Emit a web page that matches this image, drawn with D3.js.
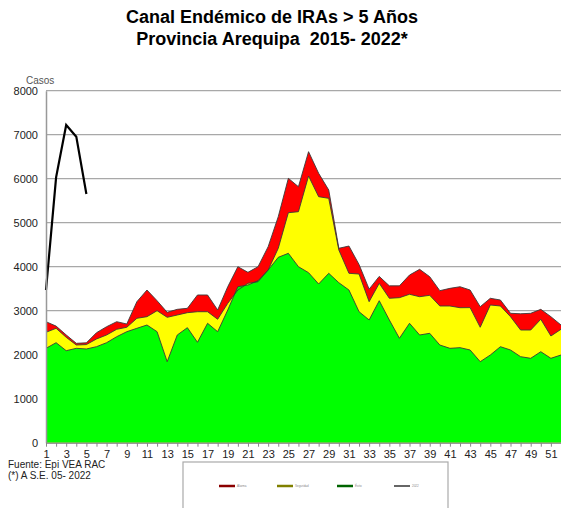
<!DOCTYPE html>
<html><head><meta charset="utf-8">
<script src="https://cdn.jsdelivr.net/npm/d3@7"></script>
<style>body{margin:0;background:#fff;}svg{display:block;font-family:"Liberation Sans",Arial,sans-serif;}</style>
</head><body>
<script>
const weeks = d3.range(1, 53);
// Q1 (zona de éxito, verde)
const exito = [2145,2273,2091,2145,2130,2182,2273,2409,2523,2600,2675,2523,1841,2448,2614,2282,2714,2523,3016,3545,3584,3682,3925,4213,4304,4000,3864,3607,3850,3636,3470,2977,2789,3227,2789,2373,2714,2448,2486,2220,2145,2160,2107,1841,1993,2182,2107,1955,1918,2068,1918,1993];
// Mediana (zona de seguridad, amarillo)
const seguridad = [2509,2600,2395,2220,2230,2357,2448,2577,2623,2827,2864,3000,2850,2902,2955,2977,2977,2805,3168,3470,3622,3659,3925,4418,5227,5250,6061,5591,5554,4380,3850,3834,3205,3622,3282,3296,3373,3318,3350,3107,3107,3068,3070,2623,3130,3107,2864,2561,2561,2805,2425,2577];
// Q3 (zona de alarma, rojo)
const alarma = [2750,2650,2450,2259,2270,2500,2636,2750,2698,3205,3470,3227,2963,3031,3054,3357,3357,3016,3545,4000,3872,4000,4455,5136,6009,5818,6614,6122,5743,4418,4470,4050,3490,3780,3565,3565,3811,3940,3773,3455,3508,3545,3470,3091,3282,3243,2941,2930,2941,3031,2864,2675];
// Casos 2022
const weeks2022 = [1,2,3,4,5];
const casos2022 = [3470,6030,7220,6955,5652];
const yTicks = [0,1000,2000,3000,4000,5000,6000,7000,8000];
const xLabels = d3.range(1, 52, 2);
const legendLabels = ["Alarma","Seguridad","Éxito","2022"];

const W = 561, H = 508;
const svg = d3.select("body").append("svg").attr("width", W).attr("height", H);

const x = d3.scaleLinear().domain([1, 52]).range([46, 561]);
const y = d3.scaleLinear().domain([0, 8000]).range([442.7, 90.7]);

// title
svg.append("text").attr("x", 272).attr("y", 23).attr("text-anchor","middle")
  .attr("font-size", 18).attr("font-weight","bold").attr("fill","#000")
  .text("Canal Endémico de IRAs > 5 Años");
svg.append("text").attr("x", 272).attr("y", 45).attr("text-anchor","middle")
  .attr("font-size", 18).attr("font-weight","bold").attr("fill","#000")
  .text("Provincia Arequipa\u00A0\u00A02015- 2022*");

// gridlines
svg.append("g").selectAll("line").data(yTicks.filter(d => d > 0)).join("line")
  .attr("x1", 46).attr("x2", 561).attr("y1", d => y(d)).attr("y2", d => y(d))
  .attr("stroke", "#a8a8a8").attr("stroke-width", 1.2);

const mk = (arr) => d3.area().x((d,i) => x(weeks[i])).y0(y(0)).y1((d,i) => y(arr[i]));
const ln = (arr) => d3.line().x((d,i) => x(weeks[i])).y((d,i) => y(arr[i]));

const layers = [[alarma,"#ff0000"],[seguridad,"#ffff00"],[exito,"#00ff00"]];
layers.forEach(([arr, col]) => {
  svg.append("path").datum(arr).attr("d", mk(arr)).attr("fill", col);
});
layers.forEach(([arr]) => {
  svg.append("path").datum(arr).attr("d", ln(arr)).attr("fill","none")
    .attr("stroke","#3a3a3a").attr("stroke-width",0.9);
});

// 2022 line
svg.append("path").datum(casos2022)
  .attr("d", d3.line().x((d,i) => x(weeks2022[i])).y(d => y(d)))
  .attr("fill","none").attr("stroke","#000").attr("stroke-width",2.2);

// y axis
const yAxis = d3.axisLeft(y).tickValues(yTicks).tickSize(0).tickPadding(8).tickFormat(d3.format("d"));
const gy = svg.append("g").attr("transform","translate(46,0)").call(yAxis);
gy.select(".domain").attr("stroke","#999").attr("stroke-width",1.5);
gy.selectAll("text").attr("font-size",11).attr("fill","#222").attr("font-family","Liberation Sans, Arial, sans-serif");

// x axis
const xAxis = d3.axisBottom(x).tickValues(weeks).tickSize(4).tickSizeOuter(0).tickPadding(3)
  .tickFormat(d => xLabels.includes(d) ? d : "");
const gx = svg.append("g").attr("transform",`translate(0,${y(0)})`).call(xAxis);
gx.select(".domain").attr("stroke","#999").attr("stroke-width",1.5);
gx.selectAll(".tick line").attr("stroke","#888");
gx.selectAll("text").attr("font-size",11).attr("fill","#222").attr("dy","0.72em")
  .attr("font-family","Liberation Sans, Arial, sans-serif");

// Casos label
svg.append("text").attr("x", 26).attr("y", 84).attr("font-size", 10).attr("fill","#555").text("Casos");

// footnote
svg.append("text").attr("x", 8).attr("y", 468).attr("font-size", 10).attr("fill","#222").text("Fuente: Epi VEA RAC");
svg.append("text").attr("x", 8).attr("y", 479).attr("font-size", 10).attr("fill","#222").text("(*) A S.E. 05- 2022");

// legend
svg.append("rect").attr("x",183).attr("y",462).attr("width",265).attr("height",60)
  .attr("fill","#fff").attr("stroke","#aaa").attr("stroke-width",1.2);
const legCols = ["#8b0000","#808000","#006400","#333"];
const legX = [219, 277, 337, 394];
legendLabels.forEach((t, i) => {
  svg.append("line").attr("x1", legX[i]).attr("x2", legX[i]+16).attr("y1",486).attr("y2",486)
    .attr("stroke", legCols[i]).attr("stroke-width", i < 3 ? 2.5 : 1.5);
  svg.append("text").attr("x", legX[i]+18).attr("y", 487).attr("font-size", 3).attr("fill","#888").text(t);
});
</script>
</body></html>
